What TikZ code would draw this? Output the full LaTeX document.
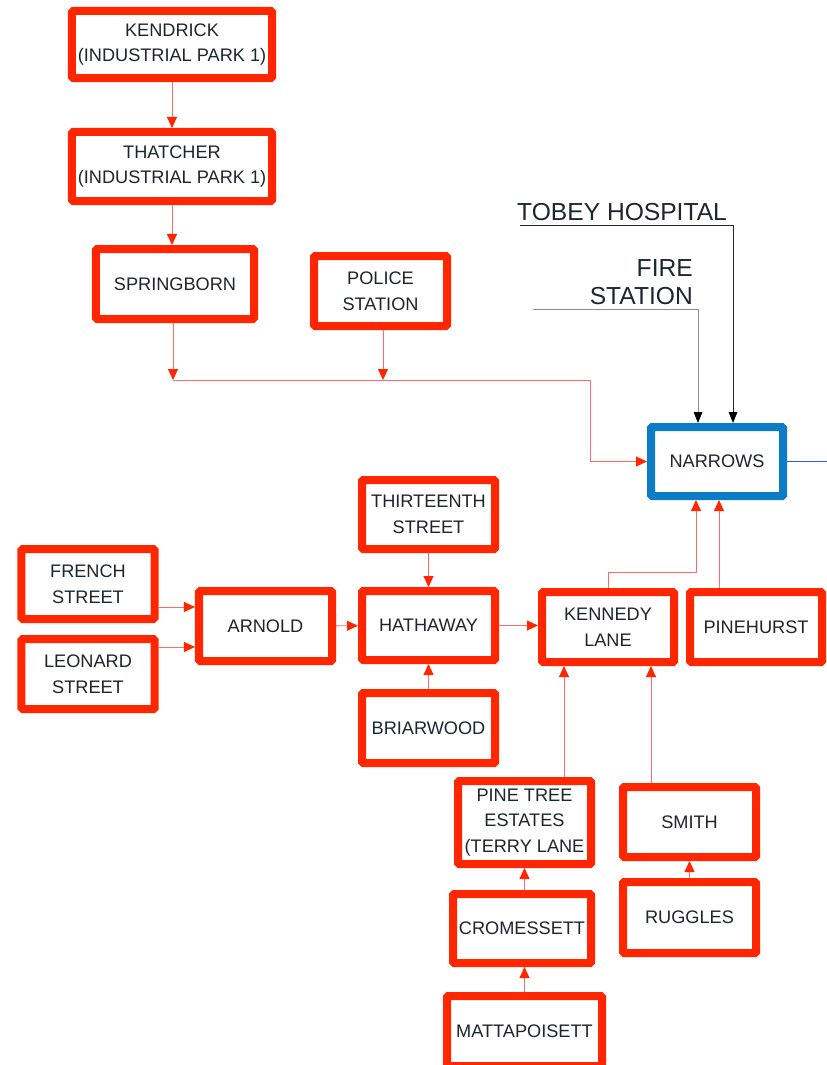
\documentclass[tikz,border=0pt]{standalone}
\usepackage{fontspec}
\setmainfont{Liberation Sans}
\usetikzlibrary{arrows.meta,calc}

\definecolor{stopred}{HTML}{FF2600}
\definecolor{linkred}{HTML}{FF6A6A}
\definecolor{hubblue}{HTML}{0A7DC6}
\definecolor{outblue}{HTML}{2F5BFF}
\definecolor{labelgray}{HTML}{1E2430}

\tikzset{
    stopbox/.style={draw=stopred, line width=0.24cm, rounded corners=1pt, fill=white,
        minimum width=3.99cm, minimum height=2.1cm, align=center, text=labelgray,
        font=\fontsize{15.5}{22}\selectfont, inner sep=1pt},
    hubbox/.style={stopbox, draw=hubblue},
    link/.style={draw=linkred, line width=0.8pt,
        -{Triangle[length=0.33cm,width=0.3cm,color=stopred]}},
    feed/.style={line width=0.8pt, -{Triangle[length=0.33cm,width=0.26cm,color=black]}},
    tag/.style={font=\fontsize{21}{24}\selectfont, text=labelgray, align=right, inner sep=0pt}
}

\begin{document}
\begin{tikzpicture}[x=0.03cm, y=-0.03cm]
    \useasboundingbox (0,0) rectangle (826,1065);

    % Draw the upper chain
    \node[stopbox, minimum width=6cm, minimum height=2.01cm] (kendrick) at (172,44.5) {KENDRICK\\(INDUSTRIAL PARK 1)};
    \node[stopbox, minimum width=6cm, minimum height=2.07cm] (thatcher) at (172,166.5) {THATCHER\\(INDUSTRIAL PARK 1)};
    \node[stopbox, minimum width=4.74cm] (springborn) at (175,284) {SPRINGBORN};
    \node[stopbox] (police) at (380.5,291) {POLICE\\STATION};

    % Draw the hub
    \node[hubbox, minimum width=3.96cm, minimum height=2.07cm] (narrows) at (717,461.5) {NARROWS};
    \node[tag, anchor=west] (hosp) at (517,212) {TOBEY HOSPITAL};
    \node[tag, anchor=east] (fire) at (693,282) {FIRE\\STATION};

    % Draw the middle row
    \node[stopbox] (french) at (88,584) {FRENCH\\STREET};
    \node[stopbox] (leonard) at (88,674) {LEONARD\\STREET};
    \node[stopbox] (arnold) at (265.5,626) {ARNOLD};
    \node[stopbox, minimum height=2.07cm] (thirteenth) at (428.5,514.5) {THIRTEENTH\\STREET};
    \node[stopbox, minimum height=2.07cm] (hathaway) at (428.5,625.5) {HATHAWAY};
    \node[stopbox] (briarwood) at (428.5,728) {BRIARWOOD};
    \node[stopbox, minimum width=3.96cm] (kennedy) at (608,627) {KENNEDY\\LANE};
    \node[stopbox, minimum width=3.96cm] (pinehurst) at (756,627) {PINEHURST};

    % Draw the lower branches
    \node[stopbox, minimum height=2.49cm] (pinetree) at (524.5,822.5) {PINE TREE\\ESTATES\\(TERRY LANE};
    \node[stopbox] (smith) at (689.5,822) {SMITH};
    \node[stopbox, minimum width=4.14cm, minimum height=2.07cm] (cromessett) at (522,928.5) {CROMESSETT};
    \node[stopbox, minimum height=2.13cm] (ruggles) at (689.5,917.5) {RUGGLES};
    \node[stopbox, minimum width=4.65cm] (mattapoisett) at (524.5,1031) {MATTAPOISETT};

    % Draw the upper links
    \coordinate (joinA) at (173,380);
    \coordinate (joinB) at (383,380);
    \draw[link] (kendrick) -- (thatcher);
    \draw[link] (thatcher.south) -- (thatcher.south |- springborn.north);
    \draw[link] (springborn.south -| joinA) -- (joinA);
    \draw[link] (police.south -| joinB) -- (joinB);
    \draw[link] (joinA) -- ++(417,0) |- (narrows.west);

    % Draw the feeds into the hub
    \coordinate (hospin) at (520,225);
    \coordinate (firein) at (533,309);
    \draw[feed, draw=black!85] (hospin) -| ($(narrows.north)+(16,0)$);
    \draw[feed, draw=black!45] (firein) -| ($(narrows.north)+(-19,0)$);
    \draw[outblue, line width=0.8pt] (narrows.east) -- ++(45,0);

    % Draw the middle links
    \coordinate (arnA) at ([yshift=0.57cm]arnold.west);
    \coordinate (arnB) at ([yshift=-0.63cm]arnold.west);
    \draw[link] (french.east |- arnA) -- (arnA);
    \draw[link] (leonard.east |- arnB) -- (arnB);
    \draw[link] (arnold) -- (hathaway);
    \draw[link] (thirteenth) -- (hathaway);
    \draw[link] (briarwood) -- (hathaway);
    \draw[link] (hathaway.east) -- (hathaway.east -| kennedy.west);
    \draw[link] (kennedy.north) -- ++(0,-16) -| ($(narrows.south)+(-21,0)$);
    \coordinate (pinein) at ($(narrows.south)+(2,0)$);
    \draw[link] (pinehurst.north -| pinein) -- (pinein);

    % Draw the lower links
    \coordinate (kenA) at ([xshift=-1.32cm]kennedy.south);
    \coordinate (kenB) at ([xshift=1.29cm]kennedy.south);
    \draw[link] (pinetree.north -| kenA) -- (kenA);
    \draw[link] (smith.north -| kenB) -- (kenB);
    \draw[link] (cromessett.north -| pinetree.south) -- (pinetree.south);
    \draw[link] (ruggles) -- (smith);
    \draw[link] (mattapoisett.north) -- (mattapoisett.north |- cromessett.south);
\end{tikzpicture}
\end{document}
